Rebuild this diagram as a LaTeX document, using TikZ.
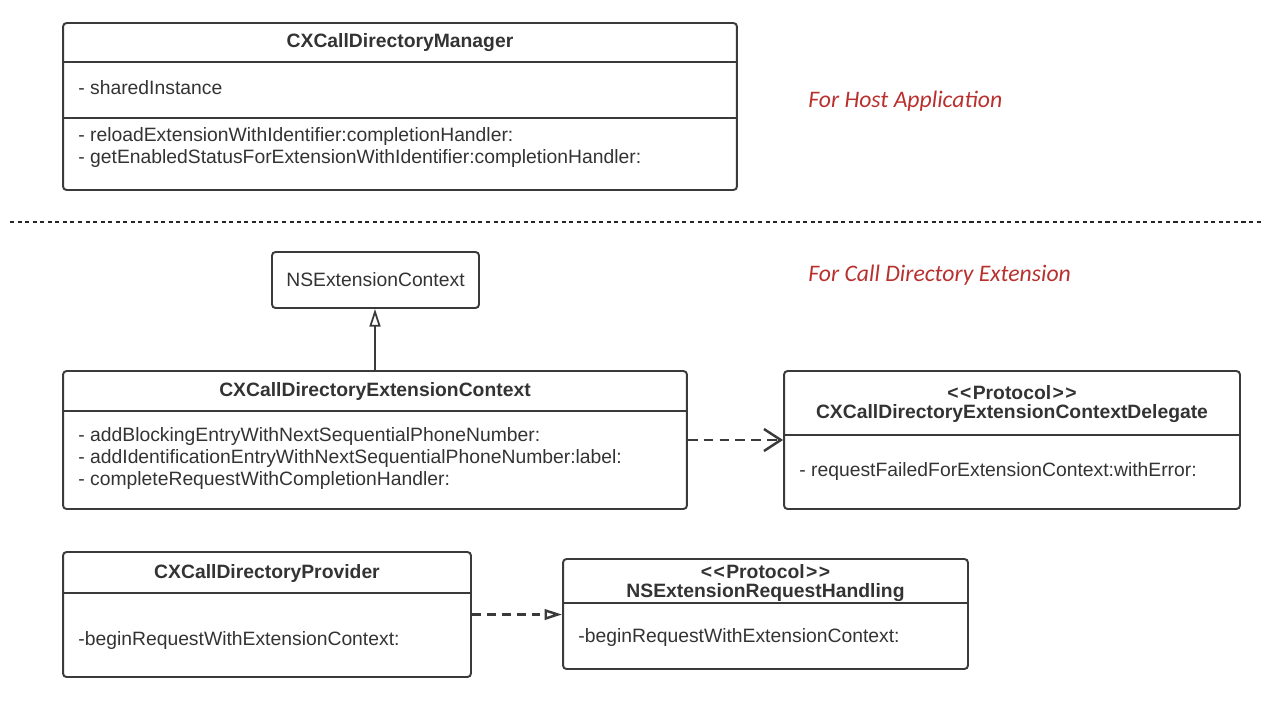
\documentclass[tikz,border=0pt]{standalone}
\usepackage{fontspec}
\setmainfont{Liberation Sans}
\newfontfamily\notefont{Carlito}
\usetikzlibrary{arrows.meta}
\definecolor{boxline}{HTML}{3A3A3A}
\definecolor{boxtext}{HTML}{333333}
\definecolor{notered}{HTML}{B8312F}
\tikzset{%
  classbox/.style  = {draw=boxline, line width=1.1pt, rectangle, rounded corners=2pt,
    inner sep=0pt},
  divider/.style   = {draw=boxline, line width=1.1pt},
  classname/.style = {font=\fontsize{11}{13}\selectfont\bfseries, text=boxtext, inner sep=0pt}, % Title
  member/.style    = {font=\fontsize{11}{13}\selectfont, text=boxtext, anchor=west, inner sep=0pt}, % Operation
  note/.style      = {font=\fontsize{13.5}{16}\selectfont\notefont\itshape, text=notered,
    anchor=west, inner sep=0pt},
  separator/.style = {draw=black!85, line width=0.6pt, dash pattern=on 2.3pt off 2pt},
  inherit/.style   = {draw=boxline, line width=1pt, -{Triangle[open, length=10pt, width=6.2pt]}},
  depend/.style    = {draw=boxline, line width=1.4pt, dash pattern=on 5.5pt off 3.5pt,
    -{Straight Barb[length=9.6pt, width=12.5pt]}},
  realize/.style   = {draw=boxline, line width=1.4pt, dash pattern=on 5pt off 3.5pt,
    -{Triangle[open, length=10pt, width=6pt]}}
}
\newcommand{\protocoltag}{\textless\kern0.8pt\textless\kern0.8pt Protocol\kern0.8pt\textgreater\kern0.8pt\textgreater}

\begin{document}
\begin{tikzpicture}[x=0.02cm, y=-0.02cm]
        \useasboundingbox (0,0) rectangle (1280,708);
        \draw
        node at(400,106.5)[classbox, name=Manager, minimum width=13.48cm, minimum height=3.34cm]{}
        node at(400,43)[classname, name=ManagerName]{CXCallDirectoryManager}
        node at(78,88)[member, name=ManagerProp]{- sharedInstance}
        node at(78,136)[member, name=ManagerOpA]{- reloadExtensionWithIdentifier:completionHandler:}
        node at(78,158)[member, name=ManagerOpB]{- getEnabledStatusForExtensionWithIdentifier:completionHandler:};
        \draw[divider] (Manager.west |- 0,62) -- (Manager.east |- 0,62);
        \draw[divider] (Manager.west |- 0,118) -- (Manager.east |- 0,118);
        \draw
        node at(808,101)[note, name=HostNote]{For Host Application}
        node at(808,275)[note, name=ExtNote]{For Call Directory Extension};
        \draw[separator] (10,222) -- (1262,222);
        \draw
        node at(375.5,280)[classbox, name=NSContext, minimum width=4.14cm, minimum height=1.12cm,
          font=\fontsize{11}{13}\selectfont, text=boxtext]{NSExtensionContext}
        node at(375,440)[classbox, name=ExtContext, minimum width=12.48cm, minimum height=2.76cm]{}
        node at(375,391)[classname, name=ExtContextName]{CXCallDirectoryExtensionContext}
        node at(78,436)[member, name=ExtContextOpA]{- addBlockingEntryWithNextSequentialPhoneNumber:}
        node at(78,458)[member, name=ExtContextOpB]{- addIdentificationEntryWithNextSequentialPhoneNumber:label:}
        node at(78,480)[member, name=ExtContextOpC]{- completeRequestWithCompletionHandler:};
        \draw[divider] (ExtContext.west |- 0,411) -- (ExtContext.east |- 0,411);
        \draw
        node at(1012,440)[classbox, name=Delegate, minimum width=9.12cm, minimum height=2.76cm]{}
        node at(1012,393)[classname, name=DelegateTag]{\protocoltag}
        node at(1012,414)[classname, name=DelegateName]{CXCallDirectoryExtensionContextDelegate}
        node at(799,471)[member, name=DelegateOp]{- requestFailedForExtensionContext:withError:};
        \draw[divider] (Delegate.west |- 0,435) -- (Delegate.east |- 0,435);
        \draw
        node at(267,614.5)[classbox, name=Provider, minimum width=8.16cm, minimum height=2.5cm]{}
        node at(267,573)[classname, name=ProviderName]{CXCallDirectoryProvider}
        node at(78,640)[member, name=ProviderOp]{-beginRequestWithExtensionContext:};
        \draw[divider] (Provider.west |- 0,593) -- (Provider.east |- 0,593);
        \draw
        node at(765.5,614)[classbox, name=Handling, minimum width=8.1cm, minimum height=2.2cm]{}
        node at(765.5,572)[classname, name=HandlingTag]{\protocoltag}
        node at(765.5,593)[classname, name=HandlingName]{NSExtensionRequestHandling}
        node at(578,637)[member, name=HandlingOp]{-beginRequestWithExtensionContext:};
        \draw[divider] (Handling.west |- 0,603) -- (Handling.east |- 0,603);
        \draw[inherit] (ExtContext.north) -- (ExtContext.north |- NSContext.south);
        \draw[depend] (ExtContext.east) -- (Delegate.west);
        \draw[realize] (Provider.east) -- (Provider.east -| Handling.west);
    \end{tikzpicture}
\end{document}
